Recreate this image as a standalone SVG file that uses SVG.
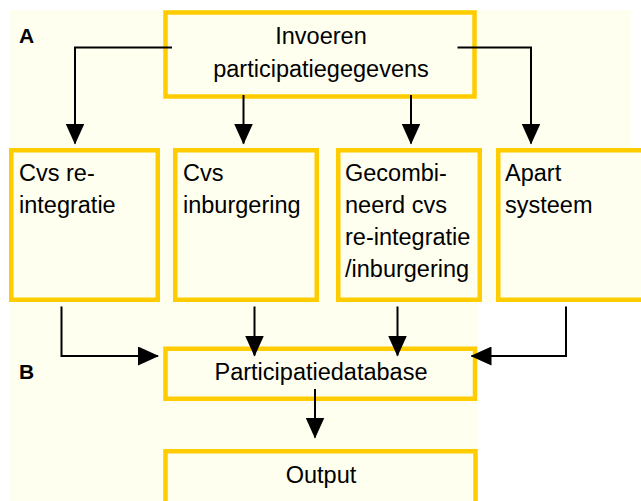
<svg xmlns="http://www.w3.org/2000/svg" width="641" height="501" viewBox="0 0 641 501">
<style>
.box{fill:#FFFFF0;stroke:#FFCC00;stroke-width:4.5}
.t{font-family:"Liberation Sans",Arial,sans-serif;font-size:23.5px;fill:#000}
.c{text-anchor:middle}
.lbl{font-family:"Liberation Sans",Arial,sans-serif;font-size:21px;font-weight:bold;fill:#000}
.conn path{fill:none;stroke:#000;stroke-width:2;marker-end:url(#arr)}
</style>
<defs>
<marker id="arr" viewBox="0 0 21 19" markerWidth="21" markerHeight="19" refX="20" refY="9.5" markerUnits="userSpaceOnUse" orient="auto">
<path d="M0,0 L21,9.5 L0,19 Z" fill="#000"/>
</marker>
</defs>
<rect width="641" height="501" fill="#fff"/>
<path d="M10,10 H631 V302 H477 V501 H10 Z" fill="#FFFFF0"/>
<text class="lbl" x="19" y="43">A</text>
<text class="lbl" x="19" y="379">B</text>
<g id="invoer">
<rect class="box" x="165.5" y="12.5" width="309" height="84"/>
<text class="t c" x="321" y="44">Invoeren</text>
<text class="t c" x="321" y="77">participatiegegevens</text>
</g>
<g id="cvs-reintegratie">
<rect class="box" x="11.25" y="150.25" width="146.5" height="149.5"/>
<text class="t" x="19" y="181">Cvs re-</text>
<text class="t" x="19" y="213">integratie</text>
</g>
<g id="cvs-inburgering">
<rect class="box" x="175.25" y="150.25" width="141.5" height="149.5"/>
<text class="t" x="183" y="181">Cvs</text>
<text class="t" x="183" y="213">inburgering</text>
</g>
<g id="gecombineerd">
<rect class="box" x="338.25" y="150.25" width="141.5" height="149.5"/>
<text class="t" x="345" y="181">Gecombi-</text>
<text class="t" x="345" y="213">neerd cvs</text>
<text class="t" x="345" y="245">re-integratie</text>
<text class="t" x="345" y="277">/inburgering</text>
</g>
<g id="apart">
<rect class="box" x="498.25" y="150.25" width="150" height="149.5"/>
<text class="t" x="505" y="181">Apart</text>
<text class="t" x="505" y="213">systeem</text>
</g>
<g id="database">
<rect class="box" x="165.5" y="348.75" width="309.5" height="50"/>
<text class="t c" x="321" y="380">Participatiedatabase</text>
</g>
<g id="output">
<rect class="box" x="165.5" y="451.25" width="310" height="70"/>
<text class="t c" x="321" y="483">Output</text>
</g>
<g id="connectors" class="conn">
<path d="M172,47.5 H75 V143.5"/>
<path d="M243.5,95 V143.5"/>
<path d="M411,95 V143.5"/>
<path d="M457.5,47.5 H531 V143.5"/>
<path d="M61.5,306.5 V356 H158"/>
<path d="M254.5,306.5 V355.5"/>
<path d="M397.5,306.5 V355.5"/>
<path d="M566,306.5 V356 H471.5"/>
<path d="M315,389 V437.5"/>
</g>
</svg>
